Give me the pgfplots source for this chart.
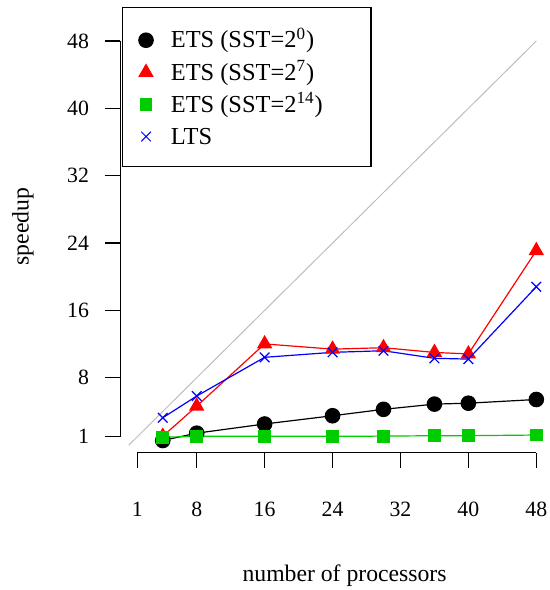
\documentclass[border=0pt]{standalone}
\usepackage{fontspec}
\setmainfont{Liberation Serif}
\usepackage{pgfplots}
\pgfplotsset{compat=1.18}
\definecolor{rgreen}{RGB}{0,205,0}
\definecolor{rgray}{RGB}{190,190,190}
\begin{document}
\begin{tikzpicture}
\begin{axis}[
  at={(60.15pt,68.65pt)}, anchor=south west,
  scale only axis, width=216.5pt, height=222.7pt,
  xmin=-1, xmax=50, ymin=-0.9, ymax=52,
  axis line style={draw=none},
  tick pos=left, tick align=outside,
  major tick length=7.5pt,
  tick style={black, line width=0.6pt},
  xtick={1,8,16,24,32,40,48}, ytick={1,8,16,24,32,40,48},
  /pgf/number format/assume math mode=true,
  tick label style={font=\fontsize{10.9}{12}\selectfont},
  xticklabel shift=13.8pt, yticklabel shift=4.65pt,
  xlabel={number of processors}, ylabel={speedup},
  label style={font=\fontsize{11.85}{14}\selectfont},
  xlabel style={at={(axis description cs:0.518,-0.277)}, anchor=center},
  ylabel style={at={(axis description cs:-0.225,0.5074)}, anchor=center},
  clip=false,
  legend cell align=left,
  legend style={at={(axis description cs:0.0028,1.0013)}, anchor=north west,
    draw=black, line width=0.6pt, fill=white,
    inner xsep=5.65pt, inner ysep=9.1pt, row sep=2.65pt,
    font=\fontsize{12.2}{14}\selectfont,
    nodes={inner sep=0pt, text height=11.2pt, text depth=2.2pt},
    /tikz/column 1/.style={column sep=6.15pt}},
  legend image code/.code={\path (-6pt,0pt) (6pt,0pt); \draw[#1] plot coordinates {(0pt,-0.65pt)};},
]
\addlegendimage{only marks, mark=*, black, mark size=3.6pt}
\addlegendentry{ETS (SST=2\textsuperscript{0})}
\addlegendimage{only marks, mark=triangle*, red, mark size=3.85pt}
\addlegendentry{ETS (SST=2\textsuperscript{7})}
\addlegendimage{only marks, mark=square*, rgreen, mark size=2.9pt}
\addlegendentry{ETS (SST=2\textsuperscript{14})\hspace*{18.5pt}}
\addlegendimage{only marks, mark=x, blue, mark size=3.4pt, line width=0.5pt}
\addlegendentry{LTS}

\addplot[rgray, line width=0.5pt, forget plot] coordinates {(0,0) (48,48)};
\addplot[black, line width=0.6pt, mark=*, mark size=3.6pt, forget plot] coordinates {
(4,0.55) (8,1.42) (16,2.51) (24,3.49) (30,4.25) (36,4.87) (40,4.98) (48,5.42)};
\addplot[red, line width=0.6pt, mark=triangle*, mark size=3.85pt, forget plot] coordinates {
(4,1.05) (8,4.63) (16,12.02) (24,11.40) (30,11.57) (36,11.01) (40,10.83) (48,23.1)};
\addplot[rgreen, line width=0.6pt, mark=square*, mark size=2.9pt, forget plot] coordinates {
(4,0.93) (8,1.05) (16,1.05) (24,1.05) (30,1.07) (36,1.12) (40,1.12) (48,1.2)};
\addplot[blue, line width=0.6pt, mark=x, mark size=3.4pt, forget plot] coordinates {
(4,3.25) (8,5.83) (16,10.43) (24,11.02) (30,11.21) (36,10.31) (40,10.22) (48,18.81)};

\draw[black, line width=0.6pt] ({axis cs:1,0} |- {rel axis cs:0,0}) -- ({axis cs:48,0} |- {rel axis cs:0,0});
\draw[black, line width=0.6pt] ({rel axis cs:0,0} |- {axis cs:0,1}) -- ({rel axis cs:0,0} |- {axis cs:0,48});
\end{axis}
\pgfresetboundingbox
\path (0pt,0pt) rectangle (275pt,295pt);
\end{tikzpicture}
\end{document}
